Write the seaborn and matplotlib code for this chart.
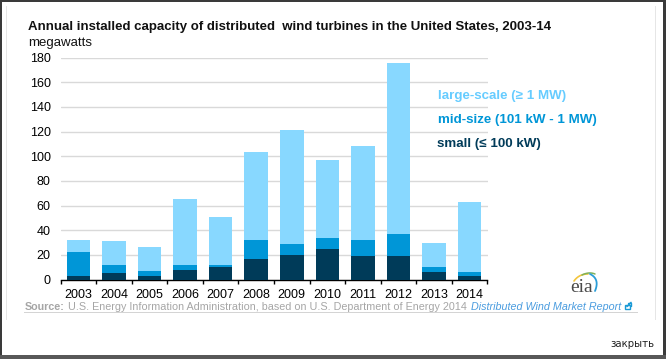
import numpy as np
import pandas as pd
import seaborn as sns
import matplotlib.pyplot as plt
from matplotlib.patches import Rectangle

# ==================== Data ====================
YEARS = ['2003', '2004', '2005', '2006', '2007', '2008', '2009', '2010', '2011', '2012', '2013', '2014']
SMALL = [3, 5, 3, 8, 10, 17, 20, 25, 19, 19, 6, 3]
MID_SIZE = [19, 7, 4, 4, 2, 15, 9, 9, 13, 18, 4, 3]
LARGE_SCALE = [10, 19.5, 19, 53, 39, 71, 92, 63, 76, 138.5, 20, 57]
Y_TICKS = [0, 20, 40, 60, 80, 100, 120, 140, 160, 180]

W, H = 666, 359
FONT = 'Liberation Sans'
GRAY = '#a6a6a6'
C_SMALL = '#003b59'
C_MID = '#0096d7'
C_LARGE = '#88d8ff'


def px(x, y):
    # pixel position in the picture -> figure coordinates
    return x / W, 1 - y / H


def put_text(fig, x, y, s, **kw):
    kw.setdefault('family', FONT)
    kw.setdefault('va', 'center')
    return fig.text(*px(x, y), s, **kw)


def put_rect(fig, x0, y0, x1, y1, color, z=0):
    fig.add_artist(Rectangle(px(x0, y1), (x1 - x0) / W, (y1 - y0) / H, transform=fig.transFigure,
                             facecolor=color, edgecolor='none', zorder=z))


def draw_frame(fig):
    # dark page behind the popup
    put_rect(fig, 2, 2, 663, 355, 'white', z=-3)
    put_rect(fig, 0, 355, W, H, '#585858', z=-3)
    put_rect(fig, 6, 6, 7, 320, '#e6e6e6', z=-2)
    put_rect(fig, 655, 6, 656, 320, '#e6e6e6', z=-2)


def swoosh(ax, p0, ctrl, p1, color, lw):
    t = np.linspace(0, 1, 30)[:, None]
    p0, ctrl, p1 = np.array(p0), np.array(ctrl), np.array(p1)
    pts = (1 - t) ** 2 * p0 + 2 * t * (1 - t) * ctrl + t ** 2 * p1
    ax.plot(pts[:, 0], pts[:, 1], color=color, lw=lw, solid_capstyle='round')


def draw_logo(fig):
    logo = fig.add_axes([0, 0, 1, 1], facecolor='none')
    logo.set_xlim(0, W)
    logo.set_ylim(H, 0)
    logo.axis('off')
    swoosh(logo, (574, 281), (579, 274), (588, 274), '#f3c53c', 1.2)
    swoosh(logo, (582, 275), (589, 271.5), (595, 274), '#7fb25a', 1.1)
    swoosh(logo, (590, 274), (600, 279), (595, 291), '#2b9ed8', 1.3)
    logo.text(582, 287, 'eia', family='Liberation Serif', fontsize=14, color='#4a4a4a',
              ha='center', va='center')
    # external link icon
    logo.add_patch(Rectangle((624.5, 304.5), 5, 4.5, facecolor='none', edgecolor='#1a9ad6', lw=1))
    logo.plot([627, 631], [306.5, 302.5], color='#1a9ad6', lw=1.2)
    logo.plot([628, 631, 631], [302.5, 302.5, 305.5], color='#1a9ad6', lw=1)


def main():
    df = pd.DataFrame({'Year': YEARS, 'small': SMALL, 'mid': MID_SIZE, 'large': LARGE_SCALE})
    df['to_mid'] = df['small'] + df['mid']
    df['total'] = df['to_mid'] + df['large']

    sns.set_theme(style='white')
    fig = plt.figure(figsize=(W / 100, H / 100), dpi=100, facecolor='#3a3a3a')
    draw_frame(fig)

    x0, y0 = px(60.5, 279.5)
    x1, y1 = px(487.5, 57.5)
    ax = fig.add_axes([x0, y0, x1 - x0, y1 - y0], facecolor='none')

    # stacked bars, tallest first so each shorter one sits on top
    for col, color in [('total', C_LARGE), ('to_mid', C_MID), ('small', C_SMALL)]:
        sns.barplot(data=df, x='Year', y=col, color=color, saturation=1, width=0.66, ax=ax,
                    zorder=3, edgecolor='none', linewidth=0)

    ax.set_xlim(-0.5, 11.5)
    ax.set_ylim(0, 180)
    ax.set_xlabel('')
    ax.set_ylabel('')
    ax.set_yticks(Y_TICKS)
    ax.set_yticklabels([str(v) for v in Y_TICKS], family=FONT, fontsize=9, color='black')
    ax.tick_params(axis='y', length=0, pad=7)
    ax.yaxis.grid(True, color='#d9d9d9', lw=1)
    ax.set_axisbelow(True)

    # ticks sit between the bars, labels under the bars
    ax.set_xticks(np.arange(-0.5, 12, 1))
    ax.set_xticklabels([])
    ax.set_xticks(np.arange(12), minor=True)
    ax.set_xticklabels(YEARS, minor=True, family=FONT, fontsize=9, color='black')
    ax.tick_params(axis='x', which='major', length=3.2, width=1, color='black', bottom=True)
    ax.tick_params(axis='x', which='minor', length=0, pad=6.6)

    sns.despine(ax=ax, left=True)
    ax.spines['bottom'].set_color('black')
    ax.spines['bottom'].set_linewidth(1)

    put_text(fig, 28, 27, 'Annual installed capacity of distributed  wind turbines in the United States, 2003-14',
             fontsize=9.56, fontweight='bold', color='#111111')
    put_text(fig, 28, 43, 'megawatts', fontsize=9.5, color='#111111')

    put_text(fig, 438, 95.5, 'large-scale (≥ 1 MW)', fontsize=9.6, fontweight='bold', color='#66ccff')
    put_text(fig, 438, 119.5, 'mid-size (101 kW - 1 MW)', fontsize=9.6, fontweight='bold', color=C_MID)
    put_text(fig, 437, 144.5, 'small (≤ 100 kW)', fontsize=9.6, fontweight='bold', color=C_SMALL)

    put_text(fig, 25, 307, 'Source:', fontsize=7.75, fontweight='bold', color=GRAY)
    put_text(fig, 68, 307, 'U.S. Energy Information Administration, based on U.S. Department of Energy 2014',
             fontsize=7.75, color=GRAY)
    put_text(fig, 471, 307, 'Distributed Wind Market Report', fontsize=7.75, style='italic', color='#4a9cdf')
    put_rect(fig, 24, 312, 638, 313, '#d4d4d4', z=-2)

    put_text(fig, 610, 344, 'закрыть', family='DejaVu Sans', fontsize=7.3, color='#222222')

    draw_logo(fig)

    fig.savefig('out.png', dpi=100, facecolor=fig.get_facecolor())


if __name__ == '__main__':
    main()
